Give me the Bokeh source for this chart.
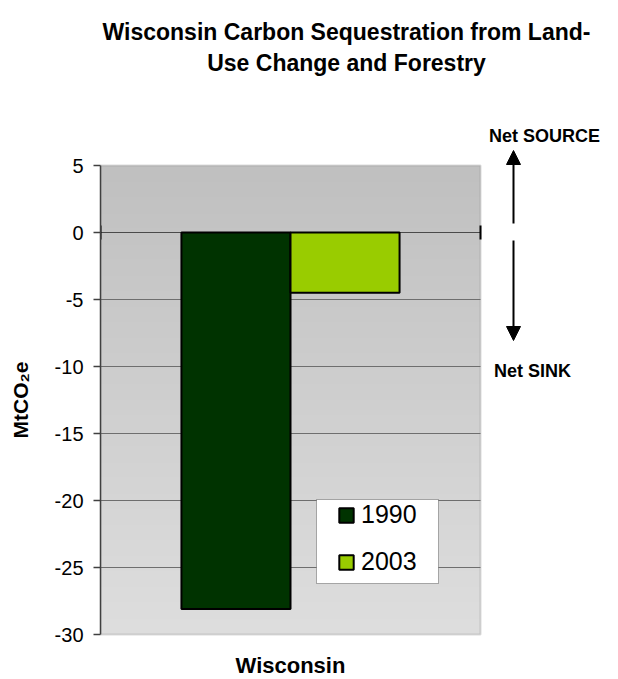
import numpy as np
from bokeh.plotting import figure
from bokeh.layouts import column
from bokeh.models import (Range1d, ColumnDataSource, Legend, LegendItem, Label,
                          BoxAnnotation, Arrow, NormalHead, FixedTicker)
from bokeh.embed import file_html
from bokeh.resources import INLINE

# ---- data ----
region = "Wisconsin"
years = ["1990", "2003"]
values = [-28.1, -4.5]
y_ticks = [5, 0, -5, -10, -15, -20, -25, -30]
y_tick_labels = ["5", "0", "-5", "-10", "-15", "-20", "-25", "-30"]
title_lines = ["Wisconsin Carbon Sequestration from Land-", "Use Change and Forestry"]

# ---- style / layout ----
bar_colors = ["#003300", "#99cc00"]
FONT = "Liberation Sans"
BAR_W = 0.287
W, H = 618, 679
AREA_L, AREA_R, AREA_T, AREA_B = 100, 480, 165, 634   # plot-area pixels
FRAME_T, FRAME_B = 121, 678                           # main frame (axis label centred)
Y_MIN, Y_MAX = -30, 5
PX_X = (AREA_R - AREA_L) / 1.0
PX_Y = (AREA_B - AREA_T) / (Y_MAX - Y_MIN)


def sx(px):
    """canvas pixel x -> data x"""
    return (px - AREA_L) / PX_X


def sy(py):
    """canvas pixel y -> data y"""
    return Y_MAX - (py - AREA_T) / PX_Y


# ---------------- title strip ----------------
pt = figure(width=W, height=FRAME_T, output_backend="svg", toolbar_location=None,
            x_range=Range1d(AREA_L, W), y_range=Range1d(FRAME_T, 0),
            x_axis_type=None, y_axis_type=None,
            min_border_left=AREA_L, min_border_right=0,
            min_border_top=0, min_border_bottom=0,
            outline_line_color=None)
pt.title.visible = False
pt.grid.visible = False
for txt, yb in zip(title_lines, [31, 62]):
    pt.add_layout(Label(x=346, y=yb, text=txt, text_align="center",
                        text_baseline="alphabetic", text_font=FONT,
                        text_font_style="bold", text_font_size="23px",
                        text_color="black"))

# ---------------- main chart ----------------
p = figure(width=W, height=H - FRAME_T, output_backend="svg", toolbar_location=None,
           x_range=Range1d(0, sx(W)), y_range=Range1d(sy(FRAME_B), sy(FRAME_T)),
           x_axis_type=None,
           min_border_left=AREA_L, min_border_right=0,
           min_border_top=0, min_border_bottom=H - FRAME_B,
           background_fill_color="#ffffff", border_fill_color="#ffffff")
p.title.visible = False
p.outline_line_color = None
p.grid.visible = False

# gradient background of plot area
ny = 256
t = np.linspace(0, 1, ny)  # 0 = bottom, 1 = top
top_c = np.array([192, 192, 192])
bot_c = np.array([222, 222, 222])
cols = (bot_c[None, :] * (1 - t[:, None]) + top_c[None, :] * t[:, None]).astype(np.uint32)
img = np.zeros((ny, 1), dtype=np.uint32)
img[:, 0] = (255 << 24) | (cols[:, 2] << 16) | (cols[:, 1] << 8) | cols[:, 0]
bg = p.image_rgba(image=[img], x=0, y=Y_MIN, dw=1, dh=Y_MAX - Y_MIN)
bg.level = "image"

# plot-area border
p.add_layout(BoxAnnotation(left=0, right=1, bottom=Y_MIN, top=Y_MAX,
                           fill_alpha=0, line_color="#888888", line_width=2,
                           level="underlay"))

# horizontal gridlines at the inner ticks
inner = [v for v in y_ticks if Y_MIN < v < Y_MAX]
p.segment(x0=[0] * len(inner), x1=[1] * len(inner), y0=inner, y1=inner,
          line_color=["#4a4a4a" if v == 0 else "#6e6e6e" for v in inner],
          line_width=1)
# category-axis tick marks crossing the zero line
zero_px = AREA_T + Y_MAX * PX_Y
p.segment(x0=[0, 1], x1=[0, 1], y0=[sy(zero_px - 7)] * 2,
          y1=[sy(zero_px + 7)] * 2, line_color="black", line_width=2)

# bars
xs = [0.5 + (i - (len(years) - 1) / 2) * BAR_W for i in range(len(years))]
src = ColumnDataSource(dict(x=xs, top=[0] * len(values), bottom=values,
                            year=years, color=bar_colors))
r = p.vbar(x="x", width=BAR_W, top="top", bottom="bottom", source=src,
           fill_color="color", line_color="black", line_width=2)

# y axis
ya = p.yaxis[0]
ya.bounds = (Y_MIN, Y_MAX)
ya.ticker = FixedTicker(ticks=y_ticks)
ya.major_label_overrides = {v: s for v, s in zip(y_ticks, y_tick_labels)}
ya.axis_line_color = "#404040"
ya.axis_line_width = 1.5
ya.major_tick_line_color = "#404040"
ya.major_tick_line_width = 1.5
ya.major_tick_out = 7
ya.major_tick_in = 0
ya.minor_tick_line_color = None
ya.major_label_text_font = FONT
ya.major_label_text_font_size = "20px"
ya.major_label_text_color = "black"
ya.major_label_standoff = 10
ya.axis_label = "MtCO\u2082e"
ya.axis_label_text_font = FONT
ya.axis_label_text_font_style = "bold"
ya.axis_label_text_font_size = "21px"
ya.axis_label_text_color = "black"
ya.axis_label_standoff = 20

# category name below the plot area
p.add_layout(Label(x=0.5, y=sy(665), text=region, text_align="center",
                   text_baseline="alphabetic", text_font=FONT,
                   text_font_style="bold", text_font_size="22px",
                   text_color="black"))

# legend box + legend
p.add_layout(BoxAnnotation(left=sx(316), right=sx(438), top=sy(499), bottom=sy(583),
                           fill_color="white", fill_alpha=1.0,
                           line_color="black", line_width=1, level="annotation"))
legend = Legend(items=[LegendItem(label=years[i], renderers=[r], index=i)
                       for i in range(len(years))],
                location=(229, FRAME_B - 584), orientation="vertical",
                background_fill_alpha=0, border_line_alpha=0,
                padding=8, margin=0, spacing=18,
                glyph_width=18, glyph_height=18, label_height=24,
                label_standoff=6, label_text_font=FONT,
                label_text_font_size="25px", label_text_color="black")
p.add_layout(legend)

# source / sink annotations
p.add_layout(Label(x=sx(544), y=sy(135), text="Net SOURCE", text_align="center",
                   text_baseline="alphabetic", text_font=FONT,
                   text_font_style="bold", text_font_size="18px", text_color="black"))
p.add_layout(Label(x=sx(532), y=sy(370), text="Net SINK", text_align="center",
                   text_baseline="alphabetic", text_font=FONT,
                   text_font_style="bold", text_font_size="18px", text_color="black"))
p.add_layout(Arrow(x_start=sx(513), y_start=sy(223), x_end=sx(513), y_end=sy(150),
                   line_color="black", line_width=2,
                   end=NormalHead(size=14, fill_color="black", line_color="black")))
p.add_layout(Arrow(x_start=sx(513), y_start=sy(240), x_end=sx(513), y_end=sy(340),
                   line_color="black", line_width=2,
                   end=NormalHead(size=14, fill_color="black", line_color="black")))

layout = column(pt, p, spacing=0)
open("out.html", "w").write(file_html(layout, INLINE))
